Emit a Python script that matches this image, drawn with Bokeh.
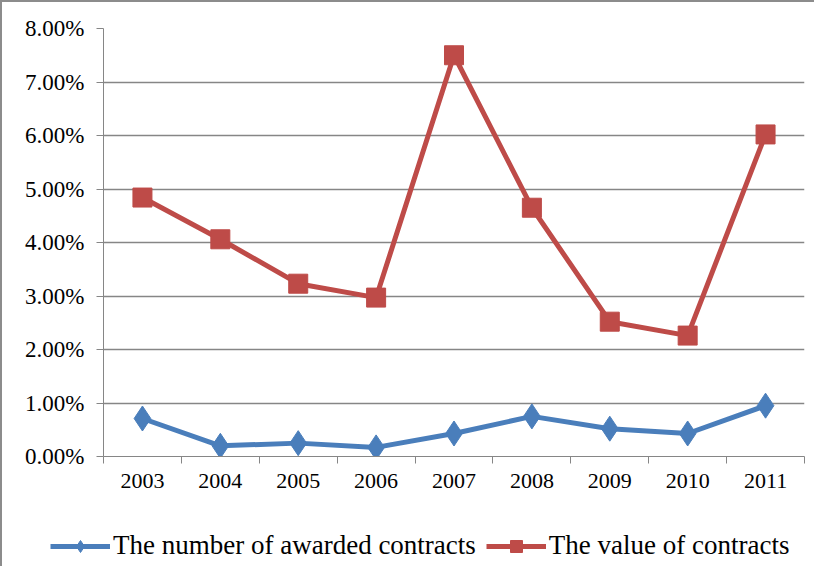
from bokeh.plotting import figure
from bokeh.layouts import column
from bokeh.models import (Range1d, FixedTicker, NumeralTickFormatter, Legend, LegendItem)
from bokeh.embed import file_html
from bokeh.resources import INLINE

years = ["2003", "2004", "2005", "2006", "2007", "2008", "2009", "2010", "2011"]
awarded_number = [0.0071, 0.0020, 0.0025, 0.0017, 0.0043, 0.0075, 0.0052, 0.0043, 0.0095]
contract_value = [0.0484, 0.0406, 0.0323, 0.0297, 0.0750, 0.0465, 0.0252, 0.0226, 0.0602]
y_ticks = [0.0, 0.01, 0.02, 0.03, 0.04, 0.05, 0.06, 0.07, 0.08]
series_names = ["The number of awarded contracts", "The value of contracts"]

BLUE = "#4A7EBB"
RED = "#BE4B48"
GRID = "#868686"
FONT = "Liberation Serif"

# category slots: centres for points/labels, boundaries for tick marks
centres = [i + 0.5 for i in range(len(years))]
bounds = list(range(len(years) + 1))

p = figure(width=812, height=500, x_range=Range1d(0, len(years)), y_range=Range1d(0, 0.08),
           output_backend="svg", toolbar_location=None,
           min_border_left=101, min_border_right=10, min_border_top=26, min_border_bottom=46)
p.frame_align = False
p.outline_line_color = None
p.background_fill_color = "white"
p.border_fill_color = "white"

# y axis
p.yaxis.ticker = FixedTicker(ticks=y_ticks)
p.yaxis.formatter = NumeralTickFormatter(format="0.00%")
p.yaxis.axis_line_color = GRID
p.yaxis.major_tick_line_color = GRID
p.yaxis.major_tick_out = 7
p.yaxis.major_tick_in = 0
p.yaxis.minor_tick_line_color = None
p.yaxis.major_label_standoff = 12
p.yaxis.major_label_text_font = FONT
p.yaxis.major_label_text_font_size = "23px"
p.yaxis.major_label_text_color = "black"

p.ygrid.ticker = FixedTicker(ticks=y_ticks)
p.ygrid.grid_line_color = GRID
p.ygrid.grid_line_width = 1.3
p.xgrid.grid_line_color = None

# x axis: labels at slot centres, tick marks at slot boundaries
p.xaxis.ticker = FixedTicker(ticks=centres, minor_ticks=bounds)
p.xaxis.major_label_overrides = {c: y for c, y in zip(centres, years)}
p.xaxis.axis_line_color = GRID
p.xaxis.major_tick_line_color = None
p.xaxis.minor_tick_line_color = GRID
p.xaxis.minor_tick_out = 7
p.xaxis.minor_tick_in = 0
p.xaxis.major_label_standoff = 10
p.xaxis.major_label_text_font = FONT
p.xaxis.major_label_text_font_size = "22px"
p.xaxis.major_label_text_color = "black"

# series
p.line(centres, awarded_number, line_color=BLUE, line_width=5)
p.scatter(centres, awarded_number, marker="diamond", size=25, fill_color=BLUE, line_color=BLUE)
p.line(centres, contract_value, line_color=RED, line_width=5)
p.scatter(centres, contract_value, marker="square", size=19, fill_color=RED, line_color=RED)

# legend strip below the chart (same series, view range chosen so only the legend shows)
lg = figure(width=812, height=64, x_range=Range1d(-20, -19), y_range=Range1d(-20, -19),
            output_backend="svg", toolbar_location=None,
            x_axis_location=None, y_axis_location=None,
            min_border=0, min_border_left=0, min_border_right=0, min_border_top=0, min_border_bottom=0)
lg.frame_align = False
lg.grid.visible = False
lg.outline_line_color = None
lg.background_fill_color = "white"
lg.border_fill_color = "white"
a1 = lg.line(centres, awarded_number, line_color=BLUE, line_width=5)
b1 = lg.scatter(centres, awarded_number, marker="diamond", size=18, fill_color=BLUE, line_color=BLUE)
a2 = lg.line(centres, contract_value, line_color=RED, line_width=5)
b2 = lg.scatter(centres, contract_value, marker="square", size=14, fill_color=RED, line_color=RED)

legend = Legend(items=[LegendItem(label=series_names[0], renderers=[a1, b1]),
                       LegendItem(label=series_names[1], renderers=[a2, b2])],
                orientation="horizontal", location=(48, 5),
                label_text_font=FONT, label_text_font_size="27px", label_text_color="black",
                glyph_width=60, glyph_height=30, label_standoff=3, spacing=10,
                padding=4, margin=0, border_line_color=None, background_fill_alpha=0)
lg.add_layout(legend)

layout = column(p, lg, spacing=0)
layout.styles = {"border-left": "2px solid #8c8c8c", "border-top": "2px solid #8c8c8c"}

open("out.html", "w").write(file_html(layout, INLINE))
